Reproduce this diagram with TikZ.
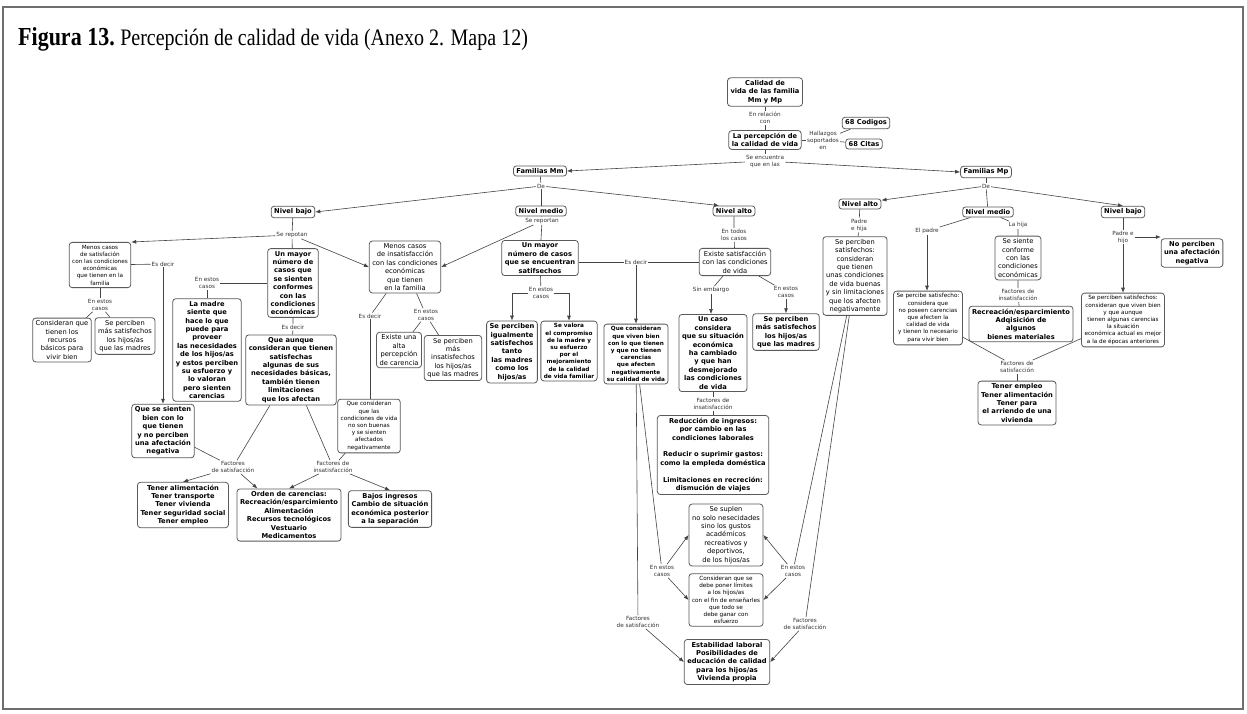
\documentclass[tikz,border=0pt]{standalone}
\usepackage{fontspec}
\usepackage{graphicx}
\setmainfont{DejaVu Sans}
\newfontfamily\titlefont{Liberation Serif}
\usetikzlibrary{arrows.meta}
\definecolor{boxc}{HTML}{5A5A5A}
\definecolor{linec}{HTML}{444444}
\definecolor{lblc}{HTML}{333333}
\definecolor{framec}{HTML}{6E6E6E}
\tikzset{
 bx/.style={draw=boxc, rounded corners=3pt, line width=0.8pt, fill=white, align=center, inner xsep=3pt, inner ysep=2.5pt, text=black},
 bL/.style={bx, font=\fontsize{6.7}{8.4}\selectfont\bfseries},
 rL/.style={bx, font=\fontsize{6.7}{8.4}\selectfont},
 rS/.style={bx, font=\fontsize{5.7}{7.2}\selectfont},
 bS/.style={bx, font=\fontsize{5.7}{7.2}\selectfont\bfseries},
 lb/.style={font=\fontsize{5.7}{7}\selectfont, text=lblc, align=center, inner sep=1pt, fill=white},
 ln/.style={draw=linec, line width=0.6pt},
 ar/.style={ln, -{Latex[length=5pt,width=4pt]}},
}
\begin{document}
\begin{tikzpicture}[x=1pt,y=-1pt]
\useasboundingbox (0,0) rectangle (1247,713);
\fill[white] (0,0) rectangle (1247,713);
\draw[framec, line width=1.8pt] (3,7) rectangle (1243,709);
\node[anchor=base west, inner sep=0] (title) at (18,45) {\scalebox{1}[1.18]{\titlefont\fontsize{22}{24}\selectfont\bfseries Figura 13.\ \fontsize{20}{24}\selectfont\mdseries Percepción de calidad de vida (Anexo 2. Mapa 12)}};

% top
\node[bL] (calidad) at (765,92) {Calidad de\\vida de las familia\\Mm y Mp};
\node[lb] (lRel) at (765,118) {En relación\\con};
\node[bL] (percep) at (765,140) {La percepción de\\la calidad de vida};
\node[lb] (lHall) at (823,140) {Hallazgos\\soportados\\en};
\node[bL] (cod) at (866,123) {68 Codigos};
\node[bL] (cit) at (864,144) {68 Citas};
\node[lb] (lEnc) at (765,161) {Se encuentra\\que en las};
\node[bL] (famMm) at (540,171) {Familias Mm};
\node[bL] (famMp) at (986,172) {Familias Mp};
\node[lb] (lDe1) at (541,186) {De};
\node[bL] (nb1) at (293,212) {Nivel bajo};
\node[bL] (nm1) at (541,211) {Nivel medio};
\node[bL] (na1) at (734,211) {Nivel alto};
\node[lb] (lDe2) at (986,186) {De};
\node[bL] (na2) at (860,204) {Nivel alto};
\node[bL] (nm2) at (988,212) {Nivel medio};
\node[bL] (nb2) at (1123,212) {Nivel bajo};

% Mm bajo
\node[lb] (lRep1) at (292,235) {Se repotan};
\node[rS] (mcs) at (100,265) {Menos casos\\de satisfación\\con las condiciones\\económicas\\que tienen en la\\familia};
\node[lb] (lEsD1) at (163,264) {Es decir};
\node[lb] (lEEC1) at (100,305) {En estos\\casos};
\node[rL] (conRec) at (62,340) {Consideran que\\tienen los\\recursos\\básicos para\\vivir bien};
\node[rL] (sp1) at (125,336) {Se perciben\\más satisfechos\\los hijos/as\\que las madres};
\node[bL] (qsb) at (163,431) {Que se sienten\\bien con lo\\que tienen\\y no perciben\\una afectación\\negativa};
\node[bL] (may1) at (293,283) {Un mayor\\número de\\casos que\\se sienten\\conformes\\con las\\condiciones\\económicas};
\node[lb] (lEEC2) at (207,283) {En estos\\casos};
\node[bL] (madre) at (207,350) {La madre\\siente que\\hace lo que\\puede para\\proveer\\las necesidades\\de los hijos/as\\y estos perciben\\su esfuerzo y\\lo valoran\\pero sienten\\carencias};
\node[lb] (lEsD2) at (293,327) {Es decir};
\node[bL] (qa) at (291,370) {Que aunque\\consideran que tienen\\satisfechas\\algunas de sus\\necesidades básicas,\\también tienen\\limitaciones\\que los afectan};
\node[lb] (lFS1) at (233,467) {Factores\\de satisfacción};
\node[lb] (lFI1) at (333,467) {Factores de\\insatisfacción};
\node[bL] (ta) at (183,505) {Tener alimentación\\Tener transporte\\Tener vivienda\\Tener seguridad social\\Tener empleo};
\node[bL] (orden) at (289,515) {Orden de carencias:\\Recreación/esparcimiento\\Alimentación\\Recursos tecnológicos\\Vestuario\\Medicamentos};
\node[bL] (bajos) at (390,509) {Bajos ingresos\\Cambio de situación\\económica posterior\\a la separación};
\node[rL] (mci) at (405,267) {Menos casos\\de insatisfacción\\con las condiciones\\económicas\\que tienen\\en la familia};
\node[lb] (lEsD3) at (370,316) {Es decir};
\node[rS] (qcc) at (369,426) {Que consideran\\que las\\condiciones de vida\\no son buenas\\y se sienten\\afectados\\negativamente};
\node[lb] (lEEC3) at (426,315) {En estos\\casos};
\node[rL] (ea) at (399,350) {Existe una\\alta\\percepción\\de carencia};
\node[rL] (sp2) at (453,358) {Se perciben\\más\\insatisfechos\\los hijos/as\\que las madres};

% Mm medio
\node[lb] (lRep2) at (542,221) {Se reportan};
\node[bL] (may2) at (540,258) {Un mayor\\número de casos\\que se encuentran\\satifsechos};
\node[lb] (lEEC4) at (541,293) {En estos\\casos};
\node[bL] (igual) at (512,352) {Se perciben\\igualmente\\satisfechos\\tanto\\las madres\\como los\\hijos/as};
\node[bS] (valora) at (569,351) {Se valora\\el compromiso\\de la madre y\\su esfuerzo\\por el\\mejoramiento\\de la calidad\\de vida familiar};
\node[lb] (lEsD4) at (636,262) {Es decir};
\node[bS] (qvb) at (636,354) {Que consideran\\que viven bien\\con lo que tienen\\y que no tienen\\carencias\\que afecten\\negativamente\\su calidad de vida};

% Mm alto
\node[lb] (lTod) at (734,235) {En todos\\los casos};
\node[rL] (exs) at (735,262) {Existe satisfacción\\con las condiciones\\de vida};
\node[lb] (lSin) at (711,290) {Sin embargo};
\node[lb] (lEEC5) at (786,292) {En estos\\casos};
\node[bL] (caso) at (713,353) {Un caso\\considera\\que su situación\\económica\\ha cambiado\\y que han\\desmejorado\\las condiciones\\de vida};
\node[bL] (sp3) at (786,332) {Se perciben\\más satisfechos\\los hijos/as\\que las madres};
\node[lb] (lFI3) at (713,404) {Factores de\\insatisfacción};
\node[bL] (red) at (713,455) {Reducción de ingresos:\\por cambio en las\\condiciones laborales\\[8.4pt]Reducir o suprimir gastos:\\como la empleda doméstica\\[8.4pt]Limitaciones en recreción:\\dismución de viajes};
\node[rL] (suplen) at (726,535) {Se suplen\\no solo nesecidades\\sino los gustos\\académicos\\recreativos y\\deportivos,\\de los hijos/as};
\node[rS] (lim) at (726,600) {Consideran que se\\debe poner límites\\a los hijos/as\\con el fin de enseñarles\\que todo se\\debe ganar con\\esfuerzo};
\node[lb] (lEECL) at (662,571) {En estos\\casos};
\node[lb] (lEECR) at (793,571) {En estos\\casos};
\node[lb] (lFSL) at (638,622) {Factores\\de satisfacción};
\node[lb] (lFSR) at (805,624) {Factores\\de satisfacción};
\node[bL] (estab) at (727,662) {Estabilidad laboral\\Posibilidades de\\educación de calidad\\para los hijos/as\\Vivienda propia};

% Mp
\node[lb] (lPH) at (859,225) {Padre\\e hija};
\node[rL] (spa) at (855,276) {Se perciben\\satisfechos:\\consideran\\que tienen\\unas condiciones\\de vida buenas\\y sin limitaciones\\que los afecten\\negativamente};
\node[lb] (lPad) at (927,231) {El padre};
\node[lb] (lHija) at (1018,225) {La hija};
\node[rS] (spe) at (928,318) {Se percibe satisfecho:\\considera que\\no poseen carencias\\que afecten la\\calidad de vida\\y tienen lo necesario\\para vivir bien};
\node[rL] (conf) at (1018,258) {Se siente\\conforme\\con las\\condiciones\\económicas};
\node[lb] (lFI4) at (1018,295) {Factores de\\insatisfacción};
\node[bL] (rec) at (1021,324) {Recreación/esparcimiento\\Adqisición de\\algunos\\bienes materiales};
\node[lb] (lPH2) at (1123,237) {Padre e\\hijo};
\node[bL] (npn) at (1192,253) {No perciben\\una afectación\\negativa};
\node[rS] (sps) at (1123,320) {Se perciben satisfechos:\\consideran que viven bien\\y que aunque\\tienen algunas carencias\\la situación\\económica actual es mejor\\a la de épocas anteriores};
\node[lb] (lFS4) at (1017,367) {Factores de\\satisfacción};
\node[bL] (te) at (1017,403) {Tener empleo\\Tener alimentación\\Tener para\\el arriendo de una\\vivienda};

% connectors top
\draw[ln] (calidad) -- (lRel) -- (percep);
\draw[ln] (percep) -- (lHall);
\draw[ln] (lHall) -- (cod);
\draw[ln] (lHall) -- (cit);
\draw[ln] (percep) -- (lEnc);
\draw[ar] (lEnc) -- (famMm.east);
\draw[ar] (lEnc) -- (famMp.west);
\draw[ln] (famMm) -- (lDe1);
\draw[ar] (lDe1) -- (nb1.east);
\draw[ln] (lDe1) -- (nm1);
\draw[ar] (lDe1) -- (na1.160);
\draw[ln] (famMp) -- (lDe2);
\draw[ar] (lDe2) -- (na2.10);
\draw[ln] (lDe2) -- (nm2);
\draw[ar] (lDe2) -- (nb2.north);

% Mm bajo
\draw[ln] (nb1) -- (lRep1);
\draw[ar] (lRep1) -- (mcs.north east);
\draw[ar] (lRep1) -- (mci.west);
\draw[ln] (lRep1) -- (may1);
\draw[ln] (mcs) -- (lEsD1);
\draw[ar] (lEsD1) -- (lEsD1 |- qsb.north);
\draw[ln] (mcs) -- (lEEC1);
\draw[ln] (lEEC1) -- (conRec);
\draw[ln] (lEEC1) -- (sp1);
\draw[ln] (may1) -- (lEEC2);
\draw[ln] (lEEC2) -- (madre);
\draw[ln] (may1) -- (lEsD2) -- (qa);
\draw[ln] (qsb) -- (lFS1);
\draw[ln] (qa) -- (lFS1);
\draw[ar] (lFS1) -- (ta.north);
\draw[ar] (lFS1) -- (orden.140);
\draw[ln] (qa) -- (lFI1);
\draw[ln] (qcc) -- (lFI1);
\draw[ar] (lFI1) -- (orden.north);
\draw[ar] (lFI1) -- (bajos.north);
\draw[ln] (mci) -- (lEsD3);
\draw[ln] (lEsD3) -- (lEsD3 |- qcc.north);
\draw[ln] (mci) -- (lEEC3);
\draw[ln] (lEEC3) -- (ea);
\draw[ln] (lEEC3) -- (sp2);

% Mm medio
\draw[ln] (nm1) -- (lRep2);
\draw[ar] (lRep2) -- (mci.east);
\draw[ln] (lRep2) -- (may2);
\draw[ln] (may2) -- (lEEC4);
\draw[ar] (lEEC4.west) -| (igual.north);
\draw[ar] (lEEC4.east) -| (valora.north);
\draw[ln] (may2.east |- lEsD4) -- (lEsD4) -- (exs.west |- lEsD4);
\draw[ar] (lEsD4) -- (lEsD4 |- qvb.north);

% Mm alto
\draw[ln] (na1) -- (lTod) -- (exs);
\draw[ln] (exs) -- (lSin);
\draw[ar] (lSin) -- (lSin |- caso.north);
\draw[ln] (exs) -- (lEEC5);
\draw[ar] (lEEC5) -- (lEEC5 |- sp3.north);
\draw[ln] (caso) -- (lFI3) -- (red);
\draw[ln] (qvb) -- (lFSL);
\draw[ln] (qvb) -- (lEECL);
\draw[ar] (lEECL) -- (suplen.west);
\draw[ar] (lEECL) -- (lim.west);
\draw[ar] (lFSL) -- (estab.west);
\draw[ln] (spa) -- (lEECR);
\draw[ln] (spa) -- (lFSR);
\draw[ar] (lEECR) -- (suplen.east);
\draw[ar] (lEECR) -- (lim.east);
\draw[ar] (lFSR) -- (estab.east);

% Mp
\draw[ln] (na2) -- (lPH) -- (spa);
\draw[ln] (nm2) -- (lPad);
\draw[ar] (lPad) -- (lPad |- spe.north);
\draw[ln] (nm2) -- (lHija) -- (conf);
\draw[ln] (conf) -- (lFI4) -- (rec);
\draw[ln] (nb2) -- (lPH2);
\draw[ar] (lPH2.east) -- (lPH2.east -| npn.west);
\draw[ar] (lPH2) -- (lPH2 |- sps.north);
\draw[ln] (spe) -- (lFS4);
\draw[ln] (sps) -- (lFS4);
\draw[ln] (lFS4) -- (te);
\end{tikzpicture}
\end{document}
